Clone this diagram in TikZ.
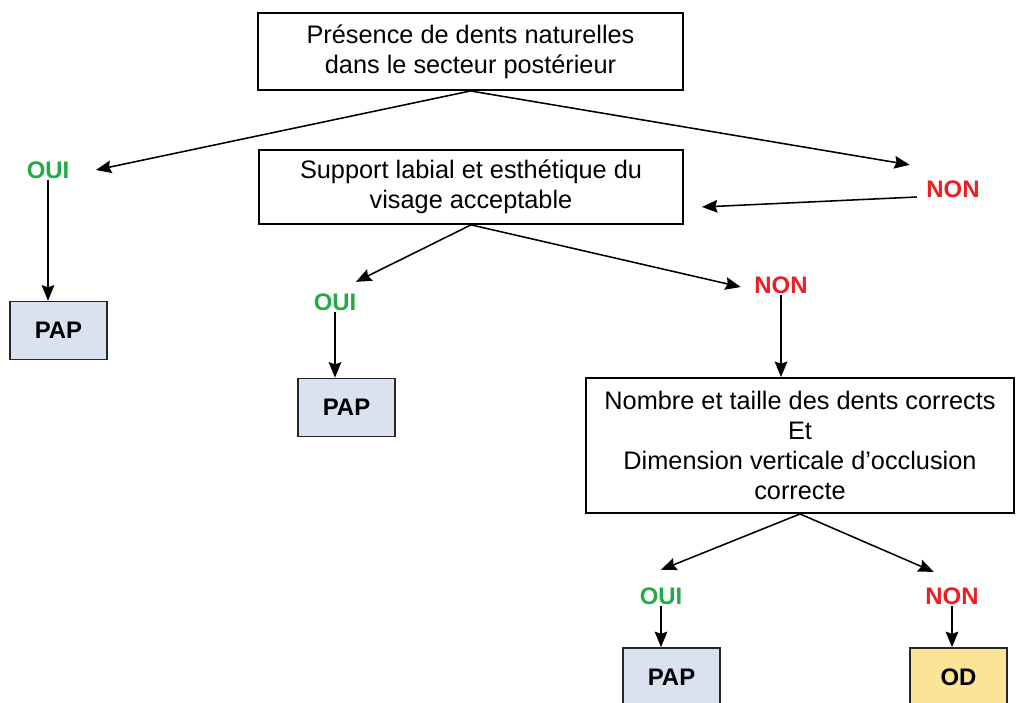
\documentclass[tikz,border=0pt]{standalone}
\usepackage{fontspec}
\setmainfont{Liberation Sans}
\usepackage{tikz}
\usetikzlibrary{arrows.meta,positioning,calc}

\definecolor{ouigreen}{RGB}{34,170,70}
\definecolor{nonred}{RGB}{235,30,35}
\definecolor{papfill}{RGB}{218,225,240}
\definecolor{odfill}{RGB}{252,228,150}

\begin{document}
\begin{tikzpicture}[
        x=0.025cm, y=-0.025cm,
        question/.style={rectangle, draw=black, line width=1.2pt, fill=white, align=center, font=\fontsize{18}{21.5}\selectfont, inner sep=2pt},
        papbox/.style={rectangle, draw=black!85, line width=1.2pt, fill=papfill, minimum width=2.42cm, minimum height=1.45cm, font=\fontsize{17}{20}\selectfont\bfseries},
        odbox/.style={papbox, fill=odfill},
        oui/.style={text=ouigreen, font=\fontsize{17}{20}\selectfont\bfseries, inner sep=1pt},
        non/.style={text=nonred, font=\fontsize{17}{20}\selectfont\bfseries, inner sep=1pt},
        arrow/.style={-{Stealth[length=11pt,width=9pt,inset=1.5pt]}, line width=1.1pt, draw=black}
        ]
        \useasboundingbox (0,0) rectangle (1016,702);

        % Questions
        \node[question, minimum width=10.62cm, minimum height=1.93cm] (q1) at (470.5,51.5)
            {Présence de dents naturelles\\dans le secteur postérieur};
        \node[question, minimum width=10.6cm, minimum height=1.85cm] (q2) at (471,187)
            {Support labial et esthétique du\\visage acceptable};
        \node[question, minimum width=10.7cm, minimum height=3.38cm] (q3) at (800,445.5)
            {Nombre et taille des dents corrects\\Et\\Dimension verticale d’occlusion\\correcte};

        % Answers
        \node[oui] (oui1) at (48,170) {OUI};
        \node[non] (non1) at (953,189) {NON};
        \node[oui] (oui2) at (335,302) {OUI};
        \node[non] (non2) at (781,285) {NON};
        \node[oui] (oui3) at (661,596) {OUI};
        \node[non] (non3) at (952,596) {NON};

        % Outcomes
        \node[papbox] (pap1) at (58.5,330.5) {PAP};
        \node[papbox] (pap2) at (346.5,407.5) {PAP};
        \node[papbox] (pap3) at (671.5,677) {PAP};
        \node[odbox] (od) at (958.5,677) {OD};

        \coordinate (q2in) at ($(q2.east)+(18,20)$);

        % Connectors
        \draw[arrow] (q1.south) -- ($(oui1.east)+(25,0)$);
        \draw[arrow] (q1.south) -- ($(non1.north west)+(-15,-14)$);
        \draw[arrow] ($(non1.west)+(-8,8)$) -- (q2in);
        \draw[arrow] (oui1.south) -- (oui1.south |- pap1.north);
        \draw[arrow] (q2.south) -- ($(oui2.north east)+(-2,-10)$);
        \draw[arrow] (q2.south) -- ($(non2.west)+(-12,2)$);
        \draw[arrow] (oui2.south) -- (oui2.south |- pap2.north);
        \draw[arrow] (non2.south) -- (non2.south |- q3.north);
        \draw[arrow] (q3.south) -- ($(oui3.north)+(0,-16)$);
        \draw[arrow] (q3.south) -- ($(non3.north west)+(10,-14)$);
        \draw[arrow] (oui3.south) -- (oui3.south |- pap3.north);
        \draw[arrow] (non3.south) -- (non3.south |- od.north);

    \end{tikzpicture}
\end{document}
